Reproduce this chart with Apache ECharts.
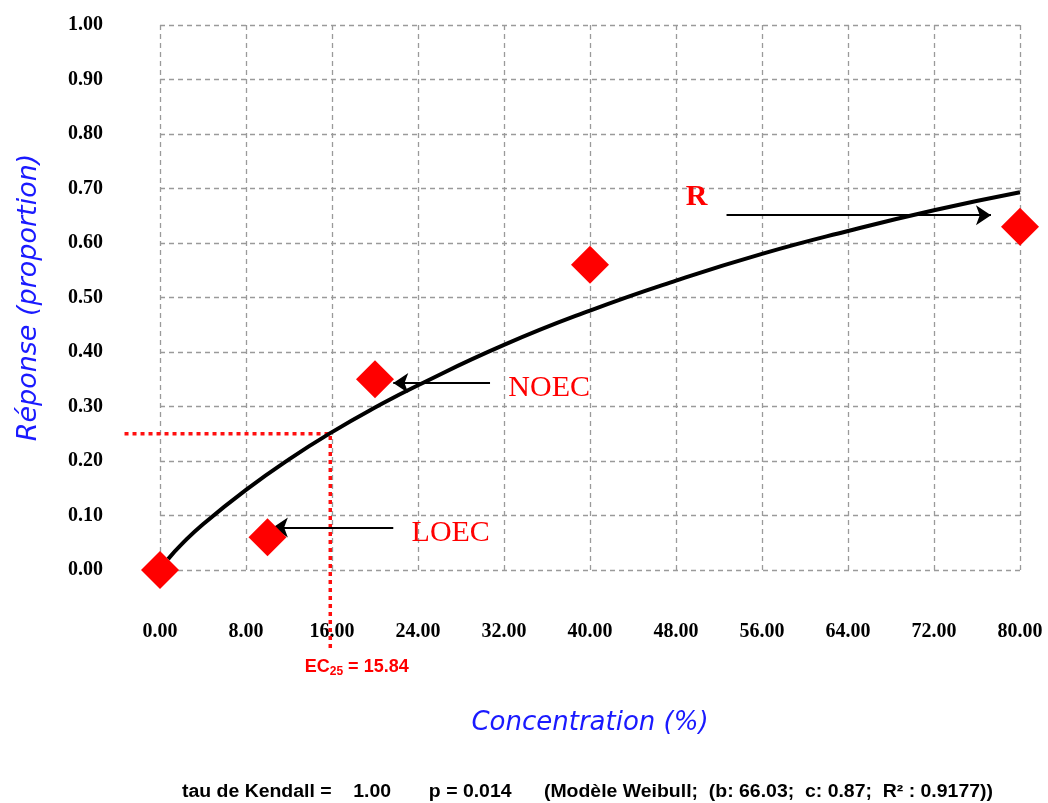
<!DOCTYPE html>
<html>
<head>
<meta charset="utf-8">
<title>EC25 Weibull</title>
<script src="https://cdn.jsdelivr.net/npm/echarts@6/dist/echarts.min.js"></script>
<style>
  html, body { margin: 0; padding: 0; background: #fff; }
  #chart { width: 1048px; height: 803px; }
</style>
</head>
<body>
<div id="chart"></div>
<script>
// observed responses
const concentrations = [0, 10, 20, 40, 80]
const responses = [0.0, 0.06, 0.35, 0.56, 0.63]

// fitted curve
const curveX = [0.75, 2, 4, 8, 12, 16, 20, 24, 32, 40, 48, 56, 64, 72, 80]
const curveY = [0.02, 0.047, 0.084, 0.147, 0.203, 0.253, 0.298, 0.339, 0.413, 0.476, 0.531, 0.58, 0.622, 0.66, 0.693]

const ec25 = 15.84
const ec25Level = 0.25
// guide ends outside the plot (x start, y end) and label spot
const ec25Guide = [-3.3, -0.148]
const ec25LabelAt = [18.3, -0.178]

// annotations: [text, x, y]
const noteLabels = [
  ['R', 48.9, 0.684],
  ['NOEC', 32.4, 0.334],
  ['LOEC', 23.4, 0.068]
]
// arrows: from -> to
const arrows = [
  [[52.7, 0.651], [77.3, 0.651]],
  [[30.7, 0.343], [21.7, 0.343]],
  [[21.7, 0.078], [10.5, 0.078]]
]

const xTicks = { min: 0, max: 80, step: 8 }
const yTicks = { min: 0, max: 1, step: 0.1 }

const footer = 'tau de Kendall =    1.00       p = 0.014      (Modèle Weibull;  (b: 66.03;  c: 0.87;  R² : 0.9177))'

const chart = echarts.init(document.getElementById('chart'))

const tickFont = {
  color: '#000',
  fontFamily: 'Liberation Serif',
  fontWeight: 'bold',
  fontSize: 20
}
const gridLine = { lineStyle: { color: '#9a9a9a', width: 1.3, type: [5, 4] } }
const nameFont = {
  color: '#1a1aff',
  fontFamily: 'DejaVu Sans',
  fontStyle: 'italic',
  fontSize: 26
}

chart.setOption({
  animation: false,
  grid: { left: 160, right: 28, top: 25, bottom: 233 },
  xAxis: {
    type: 'value',
    min: xTicks.min,
    max: xTicks.max,
    interval: xTicks.step,
    axisLine: { show: false },
    axisTick: { show: false },
    splitLine: gridLine,
    axisLabel: Object.assign({ margin: 52, formatter: (v) => v.toFixed(2) }, tickFont),
    name: 'Concentration (%)',
    nameLocation: 'middle',
    nameGap: 140,
    nameTextStyle: nameFont
  },
  yAxis: {
    type: 'value',
    min: yTicks.min,
    max: yTicks.max,
    interval: yTicks.step,
    axisLine: { show: false },
    axisTick: { show: false },
    splitLine: gridLine,
    axisLabel: Object.assign({ margin: 57, formatter: (v) => v.toFixed(2) }, tickFont),
    name: 'Réponse (proportion)',
    nameLocation: 'middle',
    nameGap: 118,
    nameTextStyle: Object.assign({}, nameFont, { fontSize: 27 })
  },
  series: [
    {
      name: 'EC25 guide',
      type: 'lines',
      coordinateSystem: 'cartesian2d',
      polyline: true,
      clip: false,
      silent: true,
      z: 1,
      lineStyle: { color: '#ff1010', width: 3.5, type: [4, 4], opacity: 1 },
      data: [{
        coords: [[ec25Guide[0], ec25Level], [ec25, ec25Level], [ec25, ec25Guide[1]]]
      }]
    },
    {
      name: 'EC25 label',
      type: 'scatter',
      symbolSize: 0,
      clip: false,
      silent: true,
      z: 5,
      itemStyle: { opacity: 1 },
      data: [ec25LabelAt],
      label: {
        show: true,
        position: [0, 0],
        align: 'center',
        verticalAlign: 'middle',
        formatter: () => '{b|EC}{sub|25}{b| = ' + ec25.toFixed(2) + '}',
        rich: {
          b: {
            color: '#ff0000',
            fontFamily: 'Liberation Sans',
            fontWeight: 'bold',
            fontSize: 18
          },
          sub: {
            color: '#ff0000',
            fontFamily: 'Liberation Sans',
            fontWeight: 'bold',
            fontSize: 12,
            padding: [9, 0, 0, 0]
          }
        }
      }
    },
    {
      name: 'Weibull',
      type: 'line',
      smooth: true,
      symbol: 'none',
      z: 2,
      lineStyle: { color: '#000', width: 4 },
      data: curveX.map((x, i) => [x, curveY[i]])
    },
    {
      name: 'arrows',
      type: 'lines',
      coordinateSystem: 'cartesian2d',
      z: 3,
      symbol: ['none', 'arrow'],
      symbolSize: 15,
      lineStyle: { color: '#000', width: 2, opacity: 1 },
      data: arrows.map((a) => ({ coords: a }))
    },
    {
      name: 'observed',
      type: 'scatter',
      symbol: 'diamond',
      symbolSize: 38,
      z: 4,
      itemStyle: { color: '#ff0000', opacity: 1 },
      data: concentrations.map((x, i) => [x, responses[i]])
    },
    {
      name: 'notes',
      type: 'scatter',
      symbolSize: 0,
      z: 5,
      silent: true,
      itemStyle: { opacity: 1 },
      data: noteLabels.map((n) => ({
        value: [n[1], n[2]],
        name: n[0],
        label: n[0] === 'R' ? { fontWeight: 'bold' } : {}
      })),
      label: {
        show: true,
        position: [0, 0],
        align: 'left',
        verticalAlign: 'middle',
        formatter: (p) => p.name,
        color: '#ff0000',
        fontFamily: 'Liberation Serif',
        fontSize: 30
      }
    }
  ],
  graphic: [
    {
      type: 'text',
      x: 182,
      y: 792,
      scaleX: 1.08,
      style: {
        text: footer,
        fill: '#000',
        font: 'bold 18px "Liberation Sans"',
        textVerticalAlign: 'middle'
      }
    }
  ]
})
</script>
</body>
</html>
